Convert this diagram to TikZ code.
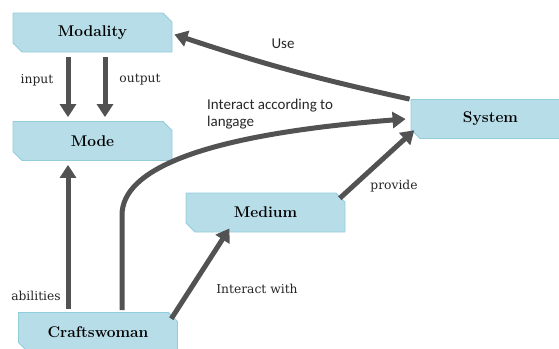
\documentclass[tikz,border=0pt]{standalone}
\usepackage{fontspec}
\newfontfamily\labelserif{DejaVu Serif}
\newfontfamily\labelsans{Carlito}
\usetikzlibrary{arrows.meta,shapes.misc}
\definecolor{boxblue}{HTML}{B7DDE8}
\definecolor{boxedge}{HTML}{92CDDC}
\definecolor{flowgray}{HTML}{525252}
\begin{document}
\begin{tikzpicture}[x=1pt,y=-1pt,
  box/.style={chamfered rectangle, chamfered rectangle corners={north east,south west},
    chamfered rectangle sep=4.5pt, fill=boxblue, draw=boxedge, line width=0.8pt,
    minimum width=159pt, minimum height=39pt, inner sep=0pt,
    font=\rmfamily\bfseries\fontsize{15.5}{18}\selectfont},
  flow/.style={draw=flowgray, line width=5pt, -{Triangle[width=16pt,length=13pt]}},
  lbl/.style={inner sep=0pt, font=\labelserif\fontsize{12.3}{15}\selectfont, text=black!85},
  slbl/.style={inner sep=0pt, font=\labelsans\fontsize{15}{17}\selectfont, text=black!85}]
\useasboundingbox (0,0) rectangle (559,348);
\clip (0,0) rectangle (559,348);

% boxes
\node[box] (modality) at (92.5,32.5) {Modality};
\node[box] (mode)     at (92.5,141) {Mode};
\node[box] (system)   at (490.5,119) {System};
\node[box] (medium)   at (265.5,212.5) {Medium};
\node[box] (crafts)   at (98,332) {Craftswoman};

% Modality to Mode
\draw[flow] ([xshift=-24.5pt,yshift=-5pt]modality.south) -- ([xshift=-24.5pt,yshift=4pt]mode.north);
\draw[flow] ([xshift=12.5pt,yshift=-5pt]modality.south) -- ([xshift=12.5pt,yshift=4pt]mode.north);
\node[lbl] (lin)  at (37,80) {input};
\node[lbl] (lout) at (140,80) {output};

% System uses Modality
\draw[flow] ([xshift=-1pt]system.north west) to[bend left=3] ([xshift=2pt,yshift=-2pt]modality.east);
\node[slbl] (luse) at (283,44) {Use};

% Craftswoman abilities to Mode
\draw[flow] ([xshift=-30pt,yshift=3pt]crafts.north) -- ([xshift=-24.5pt,yshift=-4pt]mode.south);
\node[lbl] (labil) at (36,296) {abilities};

% Craftswoman interacts with System
\draw[flow] ([xshift=24pt,yshift=2pt]crafts.north) -- ++(0,-95)
  .. controls +(0,-45) and (200,135) .. ([xshift=-5pt]system.west);
\node[slbl, anchor=north west, align=left] (llang) at (207,99) {Interact according to\\langage};

% Craftswoman interacts with Medium
\draw[flow] ([xshift=-2pt,yshift=-2pt]crafts.north east) -- ([xshift=-36pt,yshift=4pt]medium.south);
\node[lbl] (lwith) at (257,289) {Interact with};

% Medium provides System
\draw[flow] ([xshift=-1pt,yshift=-1pt]medium.north east) -- ([xshift=-1pt,yshift=4pt]system.south west);
\node[lbl] (lprov) at (394,186) {provide};
\end{tikzpicture}
\end{document}
